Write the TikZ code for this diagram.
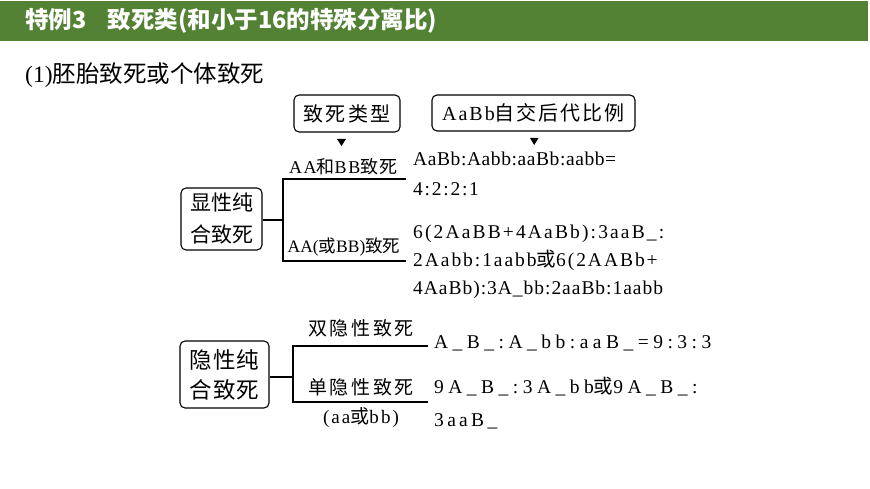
\documentclass[tikz,border=0pt]{standalone}
\usepackage{fontspec}
\setmainfont{Liberation Serif}
\newfontfamily\cjk{Noto Sans CJK SC}
\newcommand\zh[1]{{\cjk #1}}
\newcommand\zhs[2]{{\cjk\addfontfeature{LetterSpace=#1}#2}}
\newcommand\ls[2]{{\addfontfeature{LetterSpace=#1}#2}}
\definecolor{hdrgreen}{HTML}{548235}
\begin{document}
\begin{tikzpicture}[x=1pt,y=-1pt,
  box/.style={draw, rounded corners=5pt, line width=1.1pt, inner sep=0pt, align=center},
  conn/.style={line width=1.3pt},
  lab/.style={inner sep=0pt, font=\fontsize{18}{18}\selectfont},
  res/.style={inner sep=0pt, anchor=base west, font=\fontsize{19.5}{20}\selectfont}]
\useasboundingbox (0,0) rectangle (870,489);
\fill[hdrgreen] (0,1) rectangle (868,41);
\node[anchor=west, text=white, inner sep=0pt] (title) at (25,21)
  {\fontsize{23.5}{24}\selectfont\cjk\bfseries 特例3\hspace{0.9em}致死类(和小于16的特殊分离比)};
\node[anchor=west, inner sep=0pt] (sub) at (25,75)
  {\fontsize{23.5}{24}\selectfont (1)\zh{胚胎致死或个体致死}};
% column heads
\node[box, minimum width=106, minimum height=37, font=\fontsize{20}{20}\selectfont] (h1) at (347,113.5) {\zhs{12}{致死类型}};
\node[box, minimum width=203, minimum height=36, font=\fontsize{20}{20}\selectfont] (h2) at (533.5,113) {\ls{10}{AaBb}\zhs{10}{自交后代比例}};
\fill (337,139) -- (346,139) -- (341.5,146) -- cycle;
\fill (530,138) -- (538.5,138) -- (534.2,145) -- cycle;
% dominant
\node[box, minimum width=81, minimum height=62, font=\fontsize{21}{32}\selectfont] (dom) at (221.5,219) {\zh{显性纯}\\\zh{合致死}};
\coordinate (dj) at (283,220);
\coordinate (dt) at (283,179);
\coordinate (db) at (283,261);
\coordinate (dte) at (406,179);
\coordinate (dbe) at (406,261);
\draw[conn] (dom.east |- dj) -- (dj);
\draw[conn] (dte) -- (dt) -- (db) -- (dbe);
\node[lab] (l1) at (343.5,167) {\ls{9}{AA}\zhs{9}{和}\ls{9}{BB}\zhs{9}{致死}};
\node[lab, font=\fontsize{17.5}{18}\selectfont] (l2) at (344,247) {AA(\zh{或}BB)\zh{致死}};
\node[res] (r1) at (413,166) {\ls{3}{AaBb:Aabb:aaBb:aabb=}};
\node[res] (r2) at (413,196) {\ls{9}{4:2:2:1}};
\node[res] (r3) at (413,238) {\ls{11}{6(2AaBB+4AaBb):3aaB\_:}};
\node[res] (r4) at (413,266) {\ls{10}{2Aabb:1aabb}\zh{或}\ls{10}{6(2AABb+}};
\node[res] (r5) at (413,294) {\ls{5}{4AaBb):3A\_bb:2aaBb:1aabb}};
% recessive
\node[box, minimum width=89, minimum height=67, font=\fontsize{22.5}{30}\selectfont] (rec) at (224.5,374.5) {\zhs{4}{隐性纯}\\\zhs{4}{合致死}};
\coordinate (rj) at (293,377);
\coordinate (rt) at (293,346);
\coordinate (rb) at (293,402);
\coordinate (rte) at (428,346);
\coordinate (rbe) at (428,402);
\draw[conn] (rec.east |- rj) -- (rj);
\draw[conn] (rte) -- (rt) -- (rb) -- (rbe);
\node[lab, font=\fontsize{19}{19}\selectfont] (l3) at (361,328) {\zhs{14}{双隐性致死}};
\node[lab, font=\fontsize{19}{19}\selectfont] (l4) at (361,387) {\zhs{14}{单隐性致死}};
\node[lab, font=\fontsize{19}{19}\selectfont] (l5) at (361,418) {\ls{11}{(aa}\zhs{11}{或}\ls{11}{bb)}};
\node[res] (r6) at (434,348) {\ls{23}{A\_B\_:A\_bb:aaB\_=9:3:3}};
\node[res] (r7) at (434,393) {\ls{23}{9A\_B\_:3A\_bb}\zh{或}\ls{23}{9A\_B\_:}};
\node[res] (r8) at (434,426) {\ls{17}{3aaB\_}};
\end{tikzpicture}
\end{document}
